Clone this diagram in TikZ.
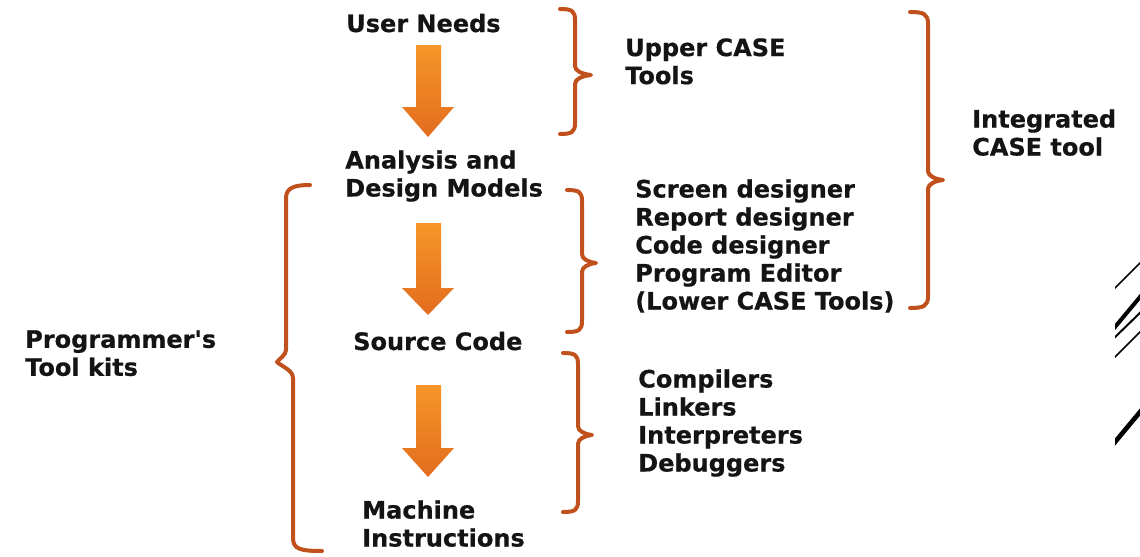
\documentclass[tikz,border=0pt]{standalone}
\usepackage{fontspec}
\setmainfont{DejaVu Sans}[BoldFeatures={FakeBold=0.6}]
\usepackage{tikz}
\usepackage{color}
\definecolor{bracecol}{RGB}{192,80,28}
\definecolor{arrowtop}{RGB}{246,150,40}
\definecolor{arrowbot}{RGB}{226,108,30}

\begin{document}
\begin{tikzpicture}[x=0.75pt,y=0.75pt,yscale=-1,xscale=1,
  lbl/.style={inner sep=0pt,align=left,text=black!92,font=\bfseries\fontsize{18}{21}\selectfont},
  brace/.style={color=bracecol,line width=3pt,line cap=round,line join=round}]
\useasboundingbox (0,0) rectangle (1140,557);

%Shape: Arrow [id:user to analysis]
\shade [top color=arrowtop,bottom color=arrowbot] (416,45) -- (441,45) -- (441,107) -- (454,107) -- (428,137) -- (402,107) -- (416,107) -- cycle ;
%Shape: Arrow [id:analysis to source]
\shade [top color=arrowtop,bottom color=arrowbot] (416,223) -- (441,223) -- (441,288) -- (454,288) -- (428,315) -- (402,288) -- (416,288) -- cycle ;
%Shape: Arrow [id:source to machine]
\shade [top color=arrowtop,bottom color=arrowbot] (416,385) -- (441,385) -- (441,448) -- (454,448) -- (428,477) -- (402,448) -- (416,448) -- cycle ;

%Shape: Brace [id:upper case]
\draw [brace] (560,9) .. controls (572,9) and (575,11) .. (575,20) -- (575,66) .. controls (575,71) and (582,74) .. (591,75) .. controls (582,76) and (575,79) .. (575,84) -- (575,123) .. controls (575,132) and (572,134) .. (560,134) ;
%Shape: Brace [id:lower case]
\draw [brace] (567,190) .. controls (579,190) and (582,192) .. (582,201) -- (582,254) .. controls (582,259) and (588,262) .. (596,263) .. controls (588,264) and (582,267) .. (582,272) -- (582,321) .. controls (582,330) and (579,332) .. (567,332) ;
%Shape: Brace [id:compilers]
\draw [brace] (563,353) .. controls (575,353) and (578,355) .. (578,364) -- (578,426) .. controls (578,431) and (584,434) .. (592,435) .. controls (584,436) and (578,439) .. (578,444) -- (578,501) .. controls (578,510) and (575,512) .. (563,512) ;
%Shape: Brace [id:integrated]
\draw [brace] (910,12) .. controls (924,12) and (928,14) .. (928,24) -- (928,171) .. controls (928,176) and (935,179) .. (943,180) .. controls (935,181) and (928,184) .. (928,189) -- (928,296) .. controls (928,306) and (924,308) .. (910,308) ;
%Shape: Brace [id:programmer]
\draw [brace] (310,185) .. controls (296,185) and (286,187) .. (286,198) -- (286,350) .. controls (286,355) and (279,359) .. (277,362) .. controls (281,366) and (293,370) .. (293,378) -- (293,538) .. controls (293,549) and (300,551) .. (322,551) ;

%Straight Lines [id:corner strokes]
\begin{scope}
\clip (1115,240) rectangle (1140,470);
\draw [line width=1.2pt] (1110,293) -- (1145,258) ;
\draw [line width=3pt] (1110,333) -- (1145,291) ;
\draw [line width=1.5pt] (1110,342) -- (1145,308) ;
\draw [line width=1.2pt] (1110,362) -- (1145,327) ;
\draw [line width=3.5pt] (1110,448) -- (1145,406) ;
\end{scope}

% Text Node
\draw (346,32) node (needs) [lbl,anchor=base west] {User Needs};
% Text Node
\draw (625,38) node (uppercase) [lbl,anchor=north west] {Upper CASE\\Tools};
% Text Node
\draw (972,109) node (integrated) [lbl,anchor=north west] {Integrated\\CASE tool};
% Text Node
\draw (345,150) node (analysis) [lbl,anchor=north west] {Analysis and\\Design Models};
% Text Node
\draw (635,179) node (lowercase) [lbl,anchor=north west] {Screen designer\\Report designer\\Code designer\\Program Editor\\(Lower CASE Tools)};
% Text Node
\draw (25,330) node (toolkits) [lbl,anchor=north west] {Programmer\textquotesingle s\\Tool kits};
% Text Node
\draw (353,350) node (source) [lbl,anchor=base west] {Source Code};
% Text Node
\draw (638,369) node (compilers) [lbl,anchor=north west] {Compilers\\Linkers\\Interpreters\\Debuggers};
% Text Node
\draw (362,500) node (machine) [lbl,anchor=north west] {Machine\\Instructions};

\end{tikzpicture}
\end{document}
